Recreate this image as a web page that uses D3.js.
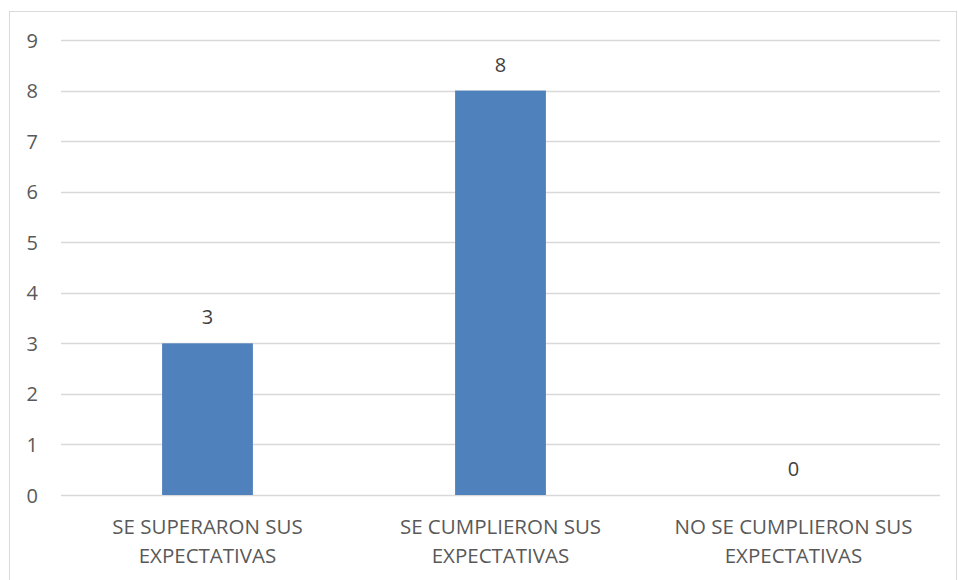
<!DOCTYPE html>
<html>
<head>
<meta charset="utf-8">
<script src="https://cdn.jsdelivr.net/npm/d3@7"></script>
<style>
  html, body { margin: 0; padding: 0; background: #fff; }
  svg { display: block; }
</style>
</head>
<body>
<svg id="chart" width="958" height="580"></svg>
<script>
// Survey result: how expectations were met
const categories = [
  ["SE SUPERARON SUS", "EXPECTATIVAS"],
  ["SE CUMPLIERON SUS", "EXPECTATIVAS"],
  ["NO SE CUMPLIERON SUS", "EXPECTATIVAS"]
];
const values = [3, 8, 0];
const yTicks = [0, 1, 2, 3, 4, 5, 6, 7, 8, 9];

const svg = d3.select("#chart");
const font = "'Open Sans', 'Liberation Sans', sans-serif";
const textColor = "#595959";

// Outer chart frame
svg.append("rect")
  .attr("x", 9.5).attr("y", 11.5)
  .attr("width", 947).attr("height", 590)
  .attr("fill", "#fff")
  .attr("stroke", "#d9d9d9").attr("stroke-width", 1);

const plot = { left: 61, right: 940, top: 40, bottom: 495 };

const x = d3.scaleBand()
  .domain(d3.range(categories.length))
  .range([plot.left, plot.right])
  .paddingInner(0.69)
  .paddingOuter(0.345);

const y = d3.scaleLinear()
  .domain([0, 9])
  .range([plot.bottom, plot.top]);

// Horizontal gridlines
svg.append("g")
  .selectAll("line")
  .data(yTicks)
  .join("line")
  .attr("x1", plot.left).attr("x2", plot.right)
  .attr("y1", d => Math.round(y(d)) + 0.5)
  .attr("y2", d => Math.round(y(d)) + 0.5)
  .attr("stroke", "#d9d9d9").attr("stroke-width", 1.3);

// Y axis labels
const yAxis = d3.axisLeft(y).tickValues(yTicks).tickSize(0).tickPadding(0);
const yg = svg.append("g")
  .attr("transform", `translate(38,0)`)
  .call(yAxis);
yg.select(".domain").remove();
yg.selectAll("text")
  .attr("font-family", font)
  .attr("font-size", 20)
  .attr("fill", textColor)
  .attr("text-anchor", "end")
  .attr("dy", "0.35em");

// Bars
svg.append("g")
  .selectAll("rect")
  .data(values)
  .join("rect")
  .attr("x", (d, i) => x(i))
  .attr("y", d => y(d))
  .attr("width", x.bandwidth())
  .attr("height", d => y(0) - y(d))
  .attr("fill", "#4f81bd");

// Value labels
svg.append("g")
  .selectAll("text")
  .data(values)
  .join("text")
  .attr("x", (d, i) => x(i) + x.bandwidth() / 2)
  .attr("y", d => y(d) - 19)
  .attr("text-anchor", "middle")
  .attr("font-family", font)
  .attr("font-size", 20)
  .attr("fill", "#404040")
  .text(d => d);

// Category labels (two lines each)
const cat = svg.append("g")
  .selectAll("text")
  .data(categories)
  .join("text")
  .attr("text-anchor", "middle")
  .attr("font-family", font)
  .attr("font-size", 20.5)
  .attr("fill", textColor);
cat.selectAll("tspan")
  .data((d, i) => d.map(line => ({ line, i })))
  .join("tspan")
  .attr("x", d => x(d.i) + x.bandwidth() / 2)
  .attr("y", (d, j) => 534 + j * 29)
  .text(d => d.line);
</script>
</body>
</html>
